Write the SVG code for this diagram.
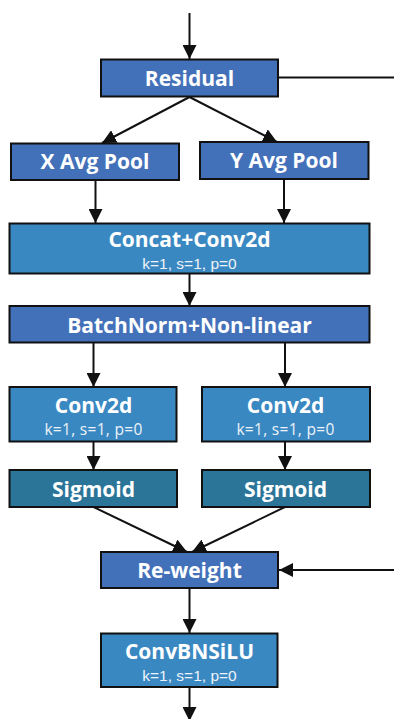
<svg xmlns="http://www.w3.org/2000/svg" width="394" height="719" viewBox="0 0 394 719">
  <style>
    .box { stroke: #111; stroke-width: 2; }
    .blue { fill: #4371B9; }
    .sky { fill: #3A88C2; }
    .teal { fill: #2B7599; }
    .title { font-family: "Open Sans", "Noto Sans", sans-serif; font-weight: 700; font-size: 21px; fill: #fff; text-anchor: middle; }
    .sub { font-family: "Liberation Sans", Arial, sans-serif; font-size: 15.5px; fill: #EEF3F8; text-anchor: middle; }
    .sub2 { font-family: "Open Sans", "Noto Sans", sans-serif; font-size: 15.5px; letter-spacing: 0.3px; fill: #EEF3F8; text-anchor: middle; }
    .edge { stroke: #111; stroke-width: 2; fill: none; }
  </style>
  <defs>
    <marker id="arrow" viewBox="0 0 10 10" refX="10" refY="5" markerWidth="7" markerHeight="7" markerUnits="strokeWidth" orient="auto">
      <path d="M0,0 L10,5 L0,10 z" fill="#111"/>
    </marker>
  </defs>

  <g id="connectors">
    <line class="edge" x1="189.5" y1="13" x2="189.5" y2="59" marker-end="url(#arrow)"/>
    <line class="edge" x1="278" y1="77.5" x2="394" y2="77.5"/>
    <line class="edge" x1="189.5" y1="97" x2="102" y2="143" marker-end="url(#arrow)"/>
    <line class="edge" x1="189.5" y1="97" x2="277" y2="142" marker-end="url(#arrow)"/>
    <line class="edge" x1="95.5" y1="180" x2="95.5" y2="223" marker-end="url(#arrow)"/>
    <line class="edge" x1="284" y1="179" x2="284" y2="223" marker-end="url(#arrow)"/>
    <line class="edge" x1="189.5" y1="273" x2="189.5" y2="306" marker-end="url(#arrow)"/>
    <line class="edge" x1="93.5" y1="342" x2="93.5" y2="387" marker-end="url(#arrow)"/>
    <line class="edge" x1="285" y1="342" x2="285" y2="387" marker-end="url(#arrow)"/>
    <line class="edge" x1="93.5" y1="442" x2="93.5" y2="470" marker-end="url(#arrow)"/>
    <line class="edge" x1="285" y1="442" x2="285" y2="470" marker-end="url(#arrow)"/>
    <line class="edge" x1="93.5" y1="507" x2="187" y2="552" marker-end="url(#arrow)"/>
    <line class="edge" x1="285" y1="507" x2="192" y2="552" marker-end="url(#arrow)"/>
    <line class="edge" x1="394" y1="570" x2="279" y2="570" marker-end="url(#arrow)"/>
    <line class="edge" x1="189.5" y1="588" x2="189.5" y2="633" marker-end="url(#arrow)"/>
    <line class="edge" x1="189.5" y1="687" x2="189.5" y2="721" marker-end="url(#arrow)"/>
  </g>

  <g id="residual">
    <rect class="box blue" x="101" y="59.5" width="177" height="37"/>
    <text class="title" x="189.5" y="86">Residual</text>
  </g>
  <g id="x-avg-pool">
    <rect class="box blue" x="11" y="143.5" width="168" height="36.5"/>
    <text class="title" x="95" y="169">X Avg Pool</text>
  </g>
  <g id="y-avg-pool">
    <rect class="box blue" x="200" y="142" width="168.5" height="37"/>
    <text class="title" x="284" y="168">Y Avg Pool</text>
  </g>
  <g id="concat-conv2d">
    <rect class="box sky" x="9.5" y="223.5" width="360" height="50"/>
    <text class="title" x="189.5" y="246.5">Concat+Conv2d</text>
    <text class="sub" x="189.5" y="268.5">k=1, s=1, p=0</text>
  </g>
  <g id="batchnorm">
    <rect class="box blue" x="9.5" y="306" width="360" height="36.5"/>
    <text class="title" x="189.5" y="332.5">BatchNorm+Non-linear</text>
  </g>
  <g id="conv2d-left">
    <rect class="box sky" x="9.5" y="387" width="167" height="54.5"/>
    <text class="title" x="93.5" y="413">Conv2d</text>
    <text class="sub2" x="93.5" y="435">k=1, s=1, p=0</text>
  </g>
  <g id="conv2d-right">
    <rect class="box sky" x="202" y="387" width="168" height="54.5"/>
    <text class="title" x="285.5" y="413">Conv2d</text>
    <text class="sub2" x="285.5" y="435">k=1, s=1, p=0</text>
  </g>
  <g id="sigmoid-left">
    <rect class="box teal" x="9.5" y="470" width="167.5" height="37"/>
    <text class="title" x="93.5" y="496.5">Sigmoid</text>
  </g>
  <g id="sigmoid-right">
    <rect class="box teal" x="202" y="470" width="168" height="37"/>
    <text class="title" x="285.5" y="496.5">Sigmoid</text>
  </g>
  <g id="re-weight">
    <rect class="box blue" x="101" y="552" width="177" height="36"/>
    <text class="title" x="189.5" y="578">Re-weight</text>
  </g>
  <g id="convbnsilu">
    <rect class="box sky" x="101" y="633.5" width="176.5" height="53.5"/>
    <text class="title" x="189.5" y="659">ConvBNSiLU</text>
    <text class="sub" x="189.5" y="680.5">k=1, s=1, p=0</text>
  </g>
</svg>
